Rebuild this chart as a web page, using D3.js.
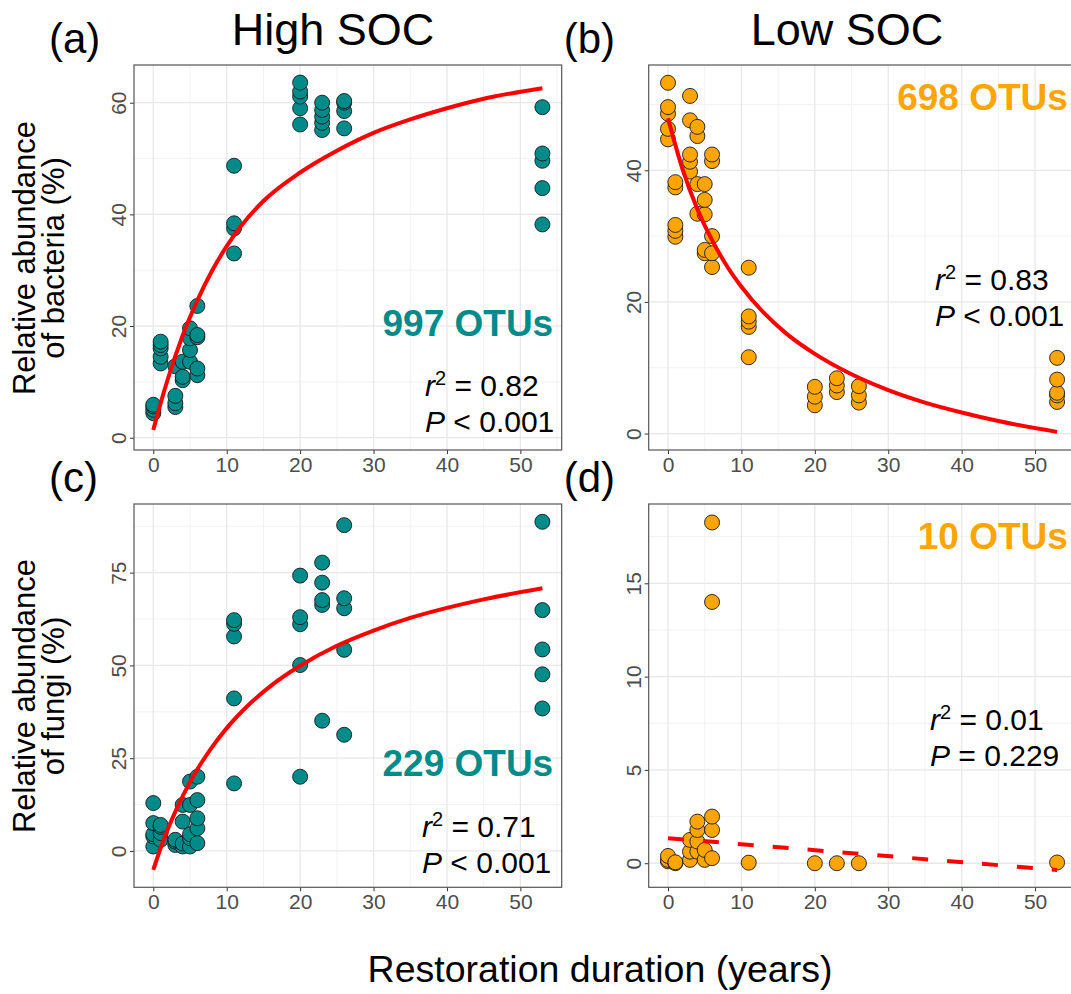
<!DOCTYPE html>
<html lang="en">
  <head>
    <meta charset="UTF-8" />
    <title>Restoration duration vs relative abundance</title>
    <script src="https://d3js.org/d3.v7.min.js"></script>
    <style>
      body {
        margin: 0;
        background: #fff;
        font-family: "Liberation Sans", Arial, sans-serif;
      }
      svg {
        display: block;
      }
    </style>
  </head>
  <body>
    <svg id="chart" width="1071" height="994"></svg>
    <script>
      // sampling years shared by all four panels
      const sampleYears = [0, 1, 3, 4, 5, 6, 11, 20, 23, 26, 53];

      // relative abundance (%) per sampling year
      const bacHigh = [
        [4.4, 5.0, 5.6, 5.9],
        [13.3, 14.5, 16.0, 16.6, 17.2],
        [5.5, 6.2, 7.5, 12.8],
        [10.3, 10.9, 13.6],
        [13.6, 15.7, 17.8, 19.6],
        [11.2, 12.4, 18.0, 18.4, 23.6],
        [33.0, 37.5, 38.4, 48.7],
        [56.1, 59.0, 61.1, 62.0, 63.6],
        [55.1, 56.4, 57.5, 58.7, 60.0],
        [55.4, 58.5, 60.0, 60.3],
        [38.2, 44.7, 49.6, 50.9, 59.2],
      ];
      const bacLow = [
        [44.7, 46.3, 48.6, 49.6, 53.3],
        [29.9, 30.8, 31.7, 37.4, 38.2],
        [39.8, 41.3, 42.4, 47.6, 51.3],
        [33.4, 37.9, 45.2, 46.6],
        [27.4, 27.9, 33.3, 35.5, 37.9],
        [25.3, 27.4, 30.0, 41.4, 42.4],
        [11.6, 16.2, 17.0, 17.8, 25.2],
        [4.3, 5.6, 7.1],
        [6.3, 7.3, 8.4],
        [4.7, 5.8, 7.2],
        [4.8, 5.8, 6.2, 8.2, 11.5],
      ];
      const fungiHigh = [
        [1.2, 3.9, 4.5, 7.5, 12.9],
        [3.0, 4.8, 6.5, 7.0],
        [1.6, 2.5, 3.0],
        [1.2, 2.0, 7.9, 12.4],
        [1.2, 3.4, 4.5, 12.4, 18.7],
        [2.1, 6.1, 8.8, 13.7, 20.0],
        [18.2, 41.1, 57.8, 61.2, 62.2],
        [20.0, 50.1, 61.1, 63.0, 74.2],
        [35.1, 66.3, 67.6, 72.3, 77.7],
        [31.3, 54.2, 65.4, 68.1, 87.8],
        [38.4, 47.6, 54.3, 64.9, 88.7],
      ];
      const fungiLow = [
        [0.1, 0.18, 0.39],
        [0.0, 0.05],
        [0.18, 0.62, 1.25],
        [0.62, 1.16, 1.78, 2.23],
        [0.18, 0.71],
        [0.27, 1.78, 2.5, 14.0, 18.26],
        [0.03],
        [0.0],
        [0.0],
        [0.0],
        [0.04],
      ];

      // fitted curves
      const fitYearsA = [0, 1, 2, 4, 6, 8, 10, 12, 15, 20, 25, 30, 35, 40, 45, 53];
      const fitA = [1.4, 6.2, 10.6, 18.3, 24.6, 29.9, 34.3, 38.0, 42.4, 47.5, 51.4, 54.6, 57.0, 59.0, 60.7, 62.6];
      const fitYearsB = [0, 2, 4, 6, 8, 10, 13, 16, 20, 25, 30, 35, 40, 45, 53];
      const fitB = [47.9, 40.1, 34.1, 29.4, 25.5, 22.3, 18.4, 15.3, 12.1, 9.0, 6.6, 4.7, 3.2, 1.9, 0.25];
      const fitYearsC = [0, 1, 2, 3, 4, 6, 8, 10, 13, 16, 20, 25, 30, 35, 40, 45, 53];
      const fitC = [-5.1, 0.8, 6.0, 10.6, 14.8, 22.0, 28.0, 33.1, 39.4, 44.5, 49.9, 55.3, 59.4, 62.8, 65.5, 67.8, 70.8];
      const fitYearsD = [0, 53];
      const fitD = [1.34, -0.36];

      const xTicks = [0, 10, 20, 30, 40, 50];
      const xMinor = [5, 15, 25, 35, 45, 55];

      const teal = "#008B8B";
      const orange = "#FFA500";

      const svg = d3.select("#chart");
      svg.append("rect").attr("width", 1071).attr("height", 994).attr("fill", "#fff");

      const panels = [
        {
          tag: "(a)", left: 134, top: 65, bottom: 450,
          yDomain: [-2.2, 66.75], yTicks: [0, 20, 40, 60], yMinor: [10, 30, 50],
          values: bacHigh, fill: teal, fitX: fitYearsA, fitY: fitA, dashed: false,
          otus: "997 OTUs", otuY: 336, r2: "0.82", p: "< 0.001", statX: 425, statY: 396,
        },
        {
          tag: "(b)", left: 648.7, top: 65, bottom: 450,
          yDomain: [-2.5, 56.0], yTicks: [0, 20, 40], yMinor: [10, 30, 50],
          values: bacLow, fill: orange, fitX: fitYearsB, fitY: fitB, dashed: false,
          otus: "698 OTUs", otuY: 110, r2: "0.83", p: "< 0.001", statX: 935, statY: 290,
        },
        {
          tag: "(c)", left: 134, top: 504, bottom: 887.3,
          yDomain: [-9.8, 93.5], yTicks: [0, 25, 50, 75], yMinor: [12.5, 37.5, 62.5, 87.5],
          values: fungiHigh, fill: teal, fitX: fitYearsC, fitY: fitC, dashed: false,
          otus: "229 OTUs", otuY: 776, r2: "0.71", p: "< 0.001", statX: 422, statY: 837,
        },
        {
          tag: "(d)", left: 648.7, top: 504, bottom: 887.3,
          yDomain: [-1.29, 19.25], yTicks: [0, 5, 10, 15], yMinor: [2.5, 7.5, 12.5, 17.5],
          values: fungiLow, fill: orange, fitX: fitYearsD, fitY: fitD, dashed: true,
          otus: "10 OTUs", otuY: 549, r2: "0.01", p: "= 0.229", statX: 930, statY: 730,
        },
      ];

      const panelW = 427.7;

      panels.forEach((p) => {
        const x = d3.scaleLinear().domain([-2.63, 55.63]).range([p.left, p.left + panelW]);
        const y = d3.scaleLinear().domain(p.yDomain).range([p.bottom, p.top]);
        const g = svg.append("g");

        // grid
        g.selectAll(".xminor").data(xMinor).enter().append("line")
          .attr("x1", (d) => x(d)).attr("x2", (d) => x(d))
          .attr("y1", p.top).attr("y2", p.bottom)
          .attr("stroke", "#f0f0f0").attr("stroke-width", 0.9);
        g.selectAll(".yminor").data(p.yMinor.filter((d) => d < p.yDomain[1])).enter().append("line")
          .attr("x1", p.left).attr("x2", p.left + panelW)
          .attr("y1", (d) => y(d)).attr("y2", (d) => y(d))
          .attr("stroke", "#f0f0f0").attr("stroke-width", 0.9);
        g.selectAll(".xmajor").data(xTicks).enter().append("line")
          .attr("x1", (d) => x(d)).attr("x2", (d) => x(d))
          .attr("y1", p.top).attr("y2", p.bottom)
          .attr("stroke", "#e8e8e8").attr("stroke-width", 1.3);
        g.selectAll(".ymajor").data(p.yTicks).enter().append("line")
          .attr("x1", p.left).attr("x2", p.left + panelW)
          .attr("y1", (d) => y(d)).attr("y2", (d) => y(d))
          .attr("stroke", "#e8e8e8").attr("stroke-width", 1.3);

        // axes
        const xAxis = g.append("g")
          .attr("transform", `translate(0,${p.bottom})`)
          .call(d3.axisBottom(x).tickValues(xTicks).tickSize(4).tickPadding(3));
        xAxis.select(".domain").remove();
        xAxis.selectAll("line").attr("stroke", "#333");
        xAxis.selectAll("text")
          .attr("font-family", "Liberation Sans, Arial, sans-serif")
          .attr("font-size", 21).attr("fill", "#4d4d4d");

        const yAxis = g.append("g")
          .attr("transform", `translate(${p.left},0)`)
          .call(d3.axisLeft(y).tickValues(p.yTicks).tickSize(4));
        yAxis.select(".domain").remove();
        yAxis.selectAll("line").attr("stroke", "#333");
        yAxis.selectAll("text")
          .attr("font-family", "Liberation Sans, Arial, sans-serif")
          .attr("font-size", 21).attr("fill", "#4d4d4d")
          .attr("x", null).attr("dy", null)
          .attr("text-anchor", "middle")
          .attr("transform", "translate(-8,0) rotate(-90)");

        // points
        const pts = p.values.flatMap((vals, i) => vals.map((v) => [sampleYears[i], v]));
        g.selectAll(".pt").data(pts).enter().append("circle")
          .attr("cx", (d) => x(d[0]))
          .attr("cy", (d) => y(d[1]))
          .attr("r", 7.5)
          .attr("fill", p.fill)
          .attr("stroke", "#1a1a1a")
          .attr("stroke-width", 0.9);

        // fitted curve
        const line = d3.line()
          .x((d) => x(d[0]))
          .y((d) => y(d[1]))
          .curve(d3.curveMonotoneX);
        g.append("path")
          .datum(p.fitX.map((v, i) => [v, p.fitY[i]]))
          .attr("d", line)
          .attr("fill", "none")
          .attr("stroke", "#ff0000")
          .attr("stroke-width", 4)
          .attr("stroke-dasharray", p.dashed ? "16,19" : null);

        // border
        g.append("rect")
          .attr("x", p.left).attr("y", p.top)
          .attr("width", panelW).attr("height", p.bottom - p.top)
          .attr("fill", "none").attr("stroke", "#555").attr("stroke-width", 1.2);

        // OTU count
        g.append("text")
          .attr("x", p.left + panelW - 8.5).attr("y", p.otuY)
          .attr("text-anchor", "end")
          .attr("font-size", 37).attr("font-weight", "bold")
          .attr("fill", p.fill)
          .text(p.otus);

        // stats
        const r2 = g.append("text")
          .attr("x", p.statX).attr("y", p.statY)
          .attr("font-size", 30).attr("fill", "#000");
        r2.append("tspan").attr("font-style", "italic").text("r");
        r2.append("tspan").attr("dy", -11).attr("font-size", 20).text("2");
        r2.append("tspan").attr("dy", 11).text(" = " + p.r2);

        const pv = g.append("text")
          .attr("x", p.statX).attr("y", p.statY + 36)
          .attr("font-size", 30).attr("fill", "#000");
        pv.append("tspan").attr("font-style", "italic").text("P");
        pv.append("tspan").text(" " + p.p);

        // panel tag
        svg.append("text")
          .attr("x", p.left - 85).attr("y", p.top - 12)
          .attr("font-size", 42).attr("fill", "#000")
          .text(p.tag);
      });

      // column titles
      svg.append("text").attr("x", 333).attr("y", 45)
        .attr("text-anchor", "middle").attr("font-size", 45).text("High SOC");
      svg.append("text").attr("x", 847).attr("y", 45)
        .attr("text-anchor", "middle").attr("font-size", 45).text("Low SOC");

      // y axis titles
      const yTitles = [
        { lines: ["Relative abundance", "of bacteria (%)"], cy: 258 },
        { lines: ["Relative abundance", "of fungi (%)"], cy: 696 },
      ];
      yTitles.forEach((t) => {
        t.lines.forEach((s, i) => {
          svg.append("text")
            .attr("transform", `translate(${35 + i * 29},${t.cy}) rotate(-90)`)
            .attr("text-anchor", "middle")
            .attr("font-size", 31)
            .text(s);
        });
      });

      // x axis title
      svg.append("text").attr("x", 600).attr("y", 982)
        .attr("text-anchor", "middle").attr("font-size", 37.5)
        .text("Restoration duration (years)");
    </script>
  </body>
</html>
